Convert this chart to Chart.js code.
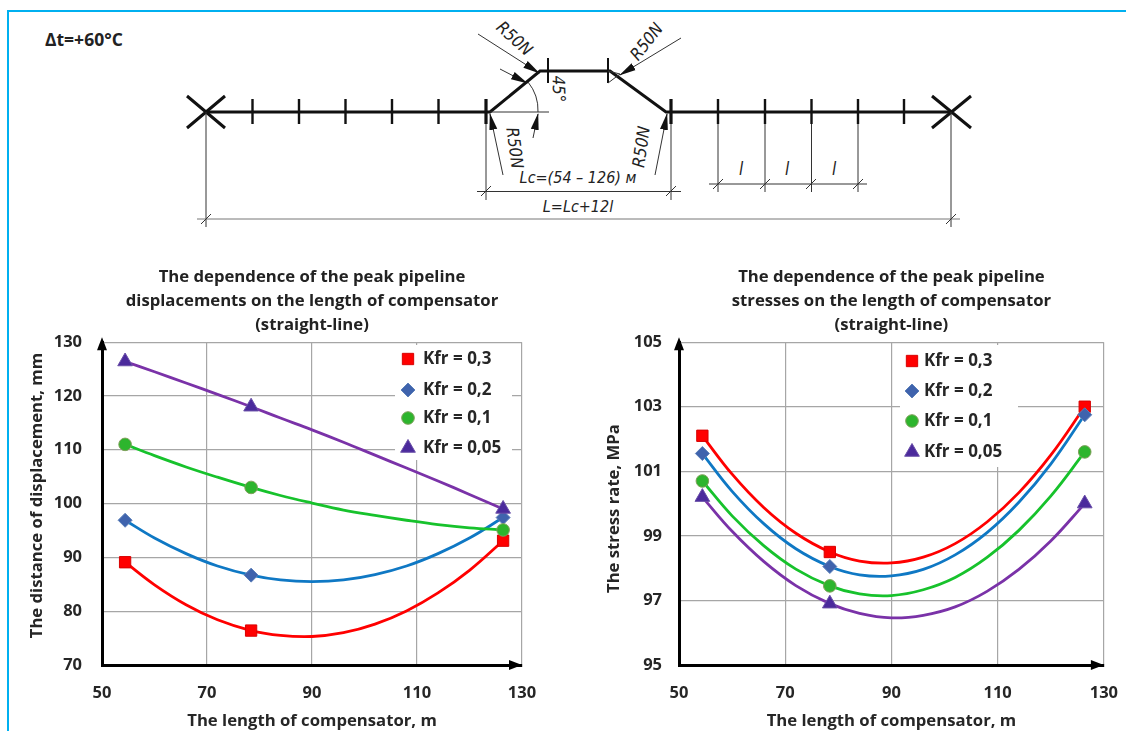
<!DOCTYPE html>
<html><head><meta charset="utf-8">
<script src="https://cdn.jsdelivr.net/npm/chart.js@4"></script>
<style>
html,body{margin:0;padding:0;background:#fff;width:1126px;height:731px;overflow:hidden}
.abs{position:absolute}
#note{left:45px;top:27px;font:bold 17.5px "Open Sans",sans-serif;color:#222}
svg text{font-family:"Liberation Sans Narrow","DejaVu Sans Condensed",sans-serif;font-style:italic;fill:#222;text-anchor:middle;dominant-baseline:middle}
</style></head><body>
<div class="abs" style="left:7px;top:10px;width:1119px;height:2px;background:#00b0f0"></div>
<div class="abs" style="left:7px;top:10px;width:2px;height:721px;background:#00b0f0"></div>
<div class="abs" id="note">Δt=+60°C</div>
<svg class="abs" style="left:0;top:0" width="1126" height="240" viewBox="0 0 1126 240">
<defs><marker id="ah" markerWidth="17" markerHeight="10" refX="16" refY="5" orient="auto" markerUnits="userSpaceOnUse"><path d="M0,1 L17,5 L0,9 Z" fill="#111"/></marker></defs>
<g stroke="#111" fill="none" stroke-width="3">
<path d="M187,96 L225,128 M187,128 L225,96 M932,96 L971,128 M932,128 L971,96"/>
<path d="M206,112 L486,112 L490,112 L540,71 L610,71 L666,112 L951,112"/>
<path stroke-width="2.4" d="M252.5,99V124M299,99V124M345.5,99V124M392,99V124M438.500,99V124M718,99V124M765,99V124M811.5,99V124M858,99V124M904,99V124"/>
<path stroke-width="3.2" d="M486,99V124M671,99V124"/>
<path stroke-width="2" d="M548,58V83M608,58V83"/>
</g>
<g stroke="#333" fill="none" stroke-width="1">
<path d="M206,112V227M951,112V227M486,124V200M671,124V200M718,124V192M765,124V192M811.5,124V192M858,124V192"/>
<path stroke="#777" d="M197,219H960"/>
<path d="M477,191.500H681M709,184H867"/>
<path d="M201,224l10,-10M946,224l10,-10M481,196l10,-10M666,196l10,-10M713,189l10,-10M760,189l10,-10M806,189l10,-10M853,189l10,-10"/>
<path d="M490,112H549M528,82A45,45 0 0 1 538,112M608,83L620,74L608,71"/>
<path marker-end="url(#ah)" d="M478,34L539,73"/>
<path marker-end="url(#ah)" d="M681,38L620,75"/>
<path marker-end="url(#ah)" d="M500,69L527,83"/>
<path marker-end="url(#ah)" d="M533,138L538,114"/>
<path marker-end="url(#ah)" d="M503,175L490,114"/>
<path marker-end="url(#ah)" d="M655,175L667,114"/>
</g>
<text font-size="17" transform="translate(514,39) rotate(42)">R50N</text>
<text font-size="17" transform="translate(647,42) rotate(-52)">R50N</text>
<text font-size="17" transform="translate(514,148) rotate(82)">R50N</text>
<text font-size="17" transform="translate(642,147) rotate(-82)">R50N</text>
<text font-size="17" transform="translate(558,89) rotate(88)">45°</text>
<text font-size="16" x="578" y="178">Lc=(54 – 126) м</text>
<text font-size="16" x="578" y="207">L=Lc+12l</text>
<text font-size="17" x="741" y="170">l</text>
<text font-size="17" x="787" y="170">l</text>
<text font-size="17" x="834" y="170">l</text>
</svg>
<div class="abs" style="left:0;top:240px;width:560px;height:491px"><canvas id="c1" width="560" height="491"></canvas></div>
<div class="abs" style="left:560px;top:240px;width:576px;height:491px"><canvas id="c2" width="576" height="491"></canvas></div>
<script>
const seriesNames = ['Kfr = 0,3','Kfr = 0,2','Kfr = 0,1','Kfr = 0,05'];
const curveLengths = [54.4,60,66,72,78.4,84,90,96,102,108,114,120,126.4];
const markerLengths = [54.4,78.4,126.4];
const xTicks = [50,70,90,110,130];
const dispKfr03 = [89.1,84.9,81.2,78.4,76.4,75.5,75.3,76,77.6,80.05,83.4,87.6,93.1];
const dispKfr02 = [96.9,93.6,90.7,88.4,86.7,85.8,85.5,85.8,86.8,88.4,90.7,93.6,97.4];
const dispKfr01 = [111,108.9,106.8,104.9,103,101.5,100.1,98.8,97.8,96.9,96.1,95.5,95.1];
const dispKfr005 = [126.4,124.5,122.4,120.3,118,115.9,113.7,111.4,109,106.6,104.2,101.7,99];
const stressKfr03 = [102.1,100.91,99.87,99.08,98.5,98.22,98.16,98.34,98.76,99.43,100.34,101.5,103];
const stressKfr02 = [101.55,100.38,99.37,98.6,98.05,97.79,97.76,97.96,98.41,99.1,100.04,101.22,102.75];
const stressKfr01 = [100.7,99.62,98.69,97.97,97.45,97.2,97.15,97.33,97.71,98.33,99.17,100.23,101.6];
const stressKfr005 = [100.2,99.14,98.2,97.46,96.9,96.6,96.46,96.54,96.8,97.28,97.96,98.84,100];
const titleLeft = ['The dependence of the peak pipeline','displacements on the length of compensator','(straight-line)'];
const titleRight = ['The dependence of the peak pipeline','stresses on the length of compensator','(straight-line)'];

const styles = [
 {line:'#ff0000',fill:'#ff0000',edge:'#d80000',pt:'rect',r:8},
 {line:'#0f78c4',fill:'#3f63ad',edge:'#5b7fb8',pt:'rectRot',r:7},
 {line:'#17c22c',fill:'#2db52d',edge:'#7fa05a',pt:'circle',r:6.3},
 {line:'#7a32a8',fill:'#4b2a9c',edge:'#6a4fa8',pt:'triangle',r:8.5}
];
const FONT='"Open Sans", sans-serif', TXT='#262626';

const decor = {
 id:'decor',
 afterDatasetsDraw(chart,args,o){
  const {ctx,chartArea:a}=chart;
  ctx.save();
  ctx.fillStyle='#000';
  ctx.beginPath();ctx.moveTo(a.left,a.top-5);ctx.lineTo(a.left-5,a.top+8);ctx.lineTo(a.left+5,a.top+8);ctx.fill();
  ctx.beginPath();ctx.moveTo(a.right,a.bottom);ctx.lineTo(a.right-13,a.bottom-5);ctx.lineTo(a.right-13,a.bottom+5);ctx.fill();
  ctx.fillStyle='#fff';
  ctx.fillRect(o.box[0],o.box[1],o.box[2],o.box[3]);
  ctx.font='bold 17px '+FONT;ctx.textBaseline='middle';ctx.textAlign='left';
  chart.data.datasets.forEach((d,i)=>{
   const y=o.ys[i];
   ctx.fillStyle=d.pointBackgroundColor;ctx.strokeStyle=d.pointBorderColor;ctx.lineWidth=1;
   Chart.helpers.drawPoint(ctx,{pointStyle:d.pointStyle,radius:d.legendRadius,borderWidth:1,rotation:0},o.mx,y);
   ctx.fillStyle=TXT;ctx.fillText(d.label,o.tx,y);
  });
  ctx.restore();
 }
};

function shiftTitle(s,d){
 if(s._shifted) return; s._shifted=true;
 const orig=s.drawTitle;
 s.drawTitle=function(){this.top+=d;this.bottom+=d;orig.call(this);this.top-=d;this.bottom-=d;};
}

function makeChart(id,cfg){
 const datasets = cfg.series.map((vals,i)=>({
  label:seriesNames[i],
  data:curveLengths.map((x,k)=>({x,y:vals[k]})),
  showLine:true,borderColor:styles[i].line,borderWidth:2.8,
  tension:0.4,
  pointStyle:styles[i].pt,
  legendRadius:styles[i].r,
  pointBackgroundColor:styles[i].fill,pointBorderColor:styles[i].edge,pointBorderWidth:1,
  pointRadius:c=>markerLengths.includes(c.parsed.x)?styles[i].r:0,
  order:-i
 }));
 return new Chart(document.getElementById(id),{
  type:'scatter',
  data:{datasets},
  plugins:[decor],
  options:{
   responsive:false,animation:false,
   layout:{padding:{left:0,top:0,bottom:0,right:cfg.right}},
   plugins:{
    legend:{display:false},tooltip:{enabled:false},
    title:{display:true,fullSize:false,text:cfg.title,color:'#222',
      font:{family:FONT,size:16.7,weight:'bold',lineHeight:1.44},padding:{top:25,bottom:5}},
    decor:cfg.legend
   },
   scales:{
    x:{type:'linear',min:50,max:130,afterFit:s=>{s.height=66},
     afterBuildTicks:s=>{s.ticks=xTicks.map(v=>({value:v}))},
     grid:{color:'#a6a6a6',lineWidth:1.2,drawTicks:false},border:{color:'#000',width:3},
     ticks:{padding:18,color:TXT,font:{family:FONT,size:16.5,weight:'bold'},maxRotation:0},
     title:{display:true,text:'The length of compensator, m',color:TXT,font:{family:FONT,size:16.7,weight:'bold',lineHeight:1.2},padding:{top:0,bottom:0}}},
    y:{type:'linear',min:cfg.ymin,max:cfg.ymax,afterFit:s=>{s.width=cfg.yw;shiftTitle(s,cfg.yshift)},
     afterBuildTicks:s=>{s.ticks=cfg.yticks.map(v=>({value:v}))},
     grid:{color:'#a6a6a6',lineWidth:1.2,drawTicks:false},border:{color:'#000',width:3},
     ticks:{padding:cfg.ypad,color:TXT,font:{family:FONT,size:16.5,weight:'bold'}},
     title:{display:true,text:cfg.ytitle,color:TXT,font:{family:FONT,size:16.7,weight:'bold',lineHeight:1.2},padding:{top:cfg.ytop,bottom:0}}}
   }
  }
 });
}
const yTicksLeft=[70,80,90,100,110,120,130];
const yTicksRight=[95,97,99,101,103,105];
makeChart('c1',{series:[dispKfr03,dispKfr02,dispKfr01,dispKfr005],title:titleLeft,right:38,yw:102,ypad:20,ytop:27,yshift:-8,
 ymin:70,ymax:130,yticks:yTicksLeft,ytitle:'The distance of displacement, mm',
 legend:{box:[395,105,117,115],mx:408,tx:423,ys:[119,150,178,208]}});
makeChart('c2',{series:[stressKfr03,stressKfr02,stressKfr01,stressKfr005],title:titleRight,right:32,yw:119,ypad:17,ytop:44,yshift:5,
 ymin:95,ymax:105,yticks:yTicksRight,ytitle:'The stress rate, MPa',
 legend:{box:[340,105,118,122],mx:352,tx:364,ys:[121,151,181,212]}});
</script>
</body></html>
